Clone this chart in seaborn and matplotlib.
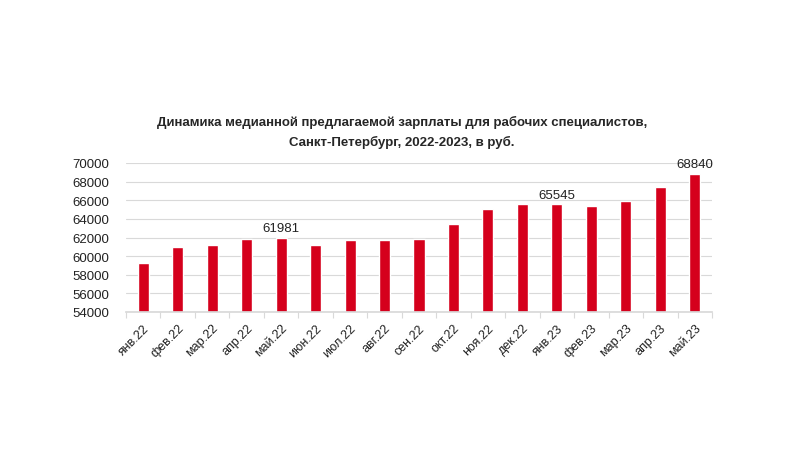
import numpy as np
import pandas as pd
import matplotlib
matplotlib.use("Agg")
import matplotlib.pyplot as plt
import seaborn as sns

# monthly median offered salary, rub
months = ["янв.22", "фев.22", "мар.22", "апр.22", "май.22", "июн.22", "июл.22", "авг.22", "сен.22",
          "окт.22", "ноя.22", "дек.22", "янв.23", "фев.23", "мар.23", "апр.23", "май.23"]
salary = [59300, 61010, 61230, 61870, 61981, 61220, 61760, 61760, 61870,
          63480, 65090, 65630, 65545, 65410, 65950, 67450, 68840]
labeled = ["май.22", "янв.23", "май.23"]
yticks = list(range(54000, 70001, 2000))

df = pd.DataFrame({"month": months, "salary": salary})

sns.set_theme(style="white")
plt.rcParams["font.family"] = ["Liberation Sans", "DejaVu Sans"]

fig = plt.figure(figsize=(8.04, 4.52), dpi=100)
ax = fig.add_axes([126 / 804, 1 - 313 / 452, (712 - 126) / 804, (313 - 164) / 452])

sns.barplot(data=df, x="month", y="salary", color="#D5001C", saturation=1, width=0.32, ax=ax)

ax.set_ylim(54000, 70000)
ax.set_yticks(yticks)
ax.set_yticklabels([str(t) for t in yticks], fontsize=9.5, color="#222222")
ax.yaxis.grid(True, color="#d9d9d9", linewidth=0.8)
ax.set_axisbelow(True)
ax.tick_params(axis="y", length=0, pad=12)

# ticks between categories like in excel
ax.set_xticks(np.arange(len(months)))
ax.set_xticklabels(months, rotation=45, ha="right", rotation_mode="anchor", fontsize=9, color="#222222")
ax.set_xticks(np.arange(len(months) + 1) - 0.5, minor=True)
ax.tick_params(axis="x", which="major", length=0, pad=7)
ax.tick_params(axis="x", which="minor", length=4, color="#d9d9d9", width=0.8, bottom=True)
ax.set_xlim(-0.5, len(months) - 0.5)

for s in ["top", "right", "left"]:
    ax.spines[s].set_visible(False)
ax.spines["bottom"].set_color("#d9d9d9")
ax.set_xlabel("")
ax.set_ylabel("")

for i, (m, v) in enumerate(zip(months, salary)):
    if m in labeled:
        ax.text(i, v + 400, str(v), ha="center", va="bottom", fontsize=9.5, color="#222222")

fig.text(0.5, 1 - 122 / 452, "Динамика медианной предлагаемой зарплаты для рабочих специалистов,",
         ha="center", va="center", fontsize=9.5, fontweight="bold")
fig.text(0.5, 1 - 142 / 452, "Санкт-Петербург, 2022-2023, в руб.",
         ha="center", va="center", fontsize=9.5, fontweight="bold")

fig.savefig("out.png", dpi=100, facecolor="white")
